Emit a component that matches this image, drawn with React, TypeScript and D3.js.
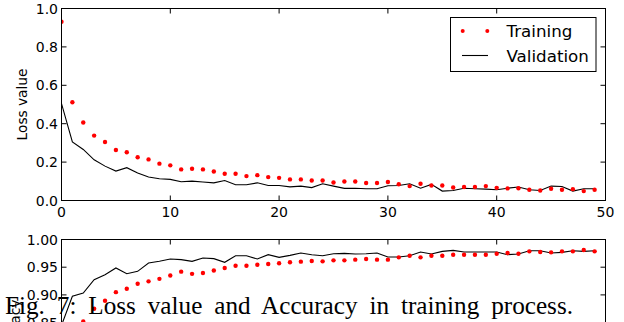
import React from "react";
import * as d3 from "d3";

const epochs = d3.range(0, 50);

const lossTrain = [
  0.931, 0.512, 0.406, 0.338, 0.305, 0.263, 0.251, 0.225, 0.214, 0.192,
  0.183, 0.162, 0.165, 0.162, 0.151, 0.139, 0.139, 0.127, 0.132, 0.122,
  0.118, 0.110, 0.110, 0.104, 0.104, 0.094, 0.099, 0.099, 0.091, 0.091,
  0.096, 0.085, 0.075, 0.087, 0.078, 0.078, 0.068, 0.070, 0.070, 0.075,
  0.066, 0.063, 0.064, 0.056, 0.052, 0.061, 0.056, 0.059, 0.049, 0.056,
];
const lossVal = [
  0.505, 0.305, 0.266, 0.212, 0.179, 0.153, 0.171, 0.143, 0.122, 0.113,
  0.110, 0.098, 0.101, 0.096, 0.092, 0.104, 0.082, 0.082, 0.092, 0.078,
  0.078, 0.071, 0.075, 0.067, 0.087, 0.075, 0.063, 0.064, 0.061, 0.061,
  0.077, 0.078, 0.087, 0.064, 0.084, 0.049, 0.052, 0.064, 0.061, 0.059,
  0.056, 0.064, 0.070, 0.056, 0.052, 0.075, 0.073, 0.049, 0.061, 0.061,
];
const accTrain = [
  0.76, 0.83, 0.852, 0.875, 0.8895, 0.905, 0.911, 0.92, 0.9245, 0.929,
  0.935, 0.942, 0.938, 0.9395, 0.944, 0.9486, 0.9527, 0.9527, 0.9545, 0.9558,
  0.957, 0.9588, 0.96, 0.9612, 0.9606, 0.9624, 0.9624, 0.9636, 0.9648, 0.9636,
  0.9636, 0.9678, 0.9708, 0.9678, 0.9708, 0.9708, 0.9726, 0.9726, 0.9726, 0.9726,
  0.9744, 0.9756, 0.9744, 0.9786, 0.9774, 0.9768, 0.9786, 0.9786, 0.981, 0.9786,
];
const accVal = [
  0.845, 0.8975, 0.9034, 0.9275, 0.9365, 0.9486, 0.9383, 0.9425, 0.9576, 0.9606,
  0.9648, 0.9636, 0.9606, 0.9666, 0.9654, 0.9588, 0.9708, 0.9708, 0.9648, 0.9726,
  0.9678, 0.9714, 0.9756, 0.9726, 0.9708, 0.9744, 0.975, 0.9738, 0.9744, 0.9756,
  0.9684, 0.9684, 0.9708, 0.9774, 0.9738, 0.9786, 0.9804, 0.9774, 0.9774, 0.9774,
  0.9774, 0.9726, 0.9738, 0.9798, 0.9798, 0.9756, 0.9768, 0.9798, 0.9786, 0.9798,
];

const xTicks = [0, 10, 20, 30, 40, 50];
const lossTicks = [0, 0.2, 0.4, 0.6, 0.8, 1.0];
const accTicks = [0.7, 0.75, 0.8, 0.85, 0.9, 0.95, 1.0];

const W = 624;
const H = 322;
const FONT = "DejaVu Sans";
const TICK = 5;

const x = d3.scaleLinear().domain([0, 50]).range([61.5, 605.5]);
const yLoss = d3.scaleLinear().domain([0, 1]).range([200.5, 8.5]);
const yAcc = d3.scaleLinear().domain([0.67, 1.0]).range([239.5 + 0.33 * 554, 239.5]);

type Props = {
  y: d3.ScaleLinear<number, number>;
  yTicks: number[];
  yFmt: (v: number) => string;
  train: number[];
  val: number[];
  label: string;
  labelX: number;
  clipId: string;
  showX: boolean;
};

function Panel({ y, yTicks, yFmt, train, val, label, labelX, clipId, showX }: Props) {
  const [x0, x1] = x.range();
  const [yb, yt] = y.range();
  const line = d3
    .line<number>()
    .x((_, i) => x(epochs[i]))
    .y((d) => y(d));
  return (
    <g>
      <defs>
        <clipPath id={clipId}>
          <rect x={x0} y={yt} width={x1 - x0} height={yb - yt} />
        </clipPath>
      </defs>
      <g clipPath={`url(#${clipId})`}>
        <path d={line(val) || ""} fill="none" stroke="#000" strokeWidth={1.1} />
        {train.map((d, i) => (
          <circle key={i} cx={x(epochs[i])} cy={y(d)} r={2.2} fill="#ff0000" />
        ))}
      </g>
      {/* frame */}
      <rect x={x0} y={yt} width={x1 - x0} height={yb - yt} fill="none" stroke="#000" strokeWidth={1} />
      {/* x ticks */}
      {xTicks.map((t) => (
        <g key={"x" + t}>
          <line x1={x(t)} x2={x(t)} y1={yb} y2={yb - TICK} stroke="#000" strokeWidth={1} />
          <line x1={x(t)} x2={x(t)} y1={yt} y2={yt + TICK} stroke="#000" strokeWidth={1} />
          {showX && (
            <text x={x(t)} y={yb + 16.3} textAnchor="middle" fontFamily={FONT} fontSize={14} fill="#000">
              {t}
            </text>
          )}
        </g>
      ))}
      {/* y ticks */}
      {yTicks.map((t) => (
        <g key={"y" + t}>
          <line x1={x0} x2={x0 + TICK} y1={y(t)} y2={y(t)} stroke="#000" strokeWidth={1} />
          <line x1={x1} x2={x1 - TICK} y1={y(t)} y2={y(t)} stroke="#000" strokeWidth={1} />
          <text x={x0 - 3.5} y={y(t) + 5.1} textAnchor="end" fontFamily={FONT} fontSize={14} fill="#000">
            {yFmt(t)}
          </text>
        </g>
      ))}
      <text
        transform={`translate(${labelX},${(yb + yt) / 2}) rotate(-90)`}
        textAnchor="middle"
        dominantBaseline="central"
        fontFamily={FONT}
        fontSize={13.7}
        fill="#000"
      >
        {label}
      </text>
    </g>
  );
}

export default function App() {
  const fmt1 = d3.format(".1f");
  const fmt2 = d3.format(".2f");
  return (
    <svg
      width={W}
      height={H}
      viewBox={`0 0 ${W} ${H}`}
      style={{ position: "absolute", left: 0, top: 0, background: "#fff" }}
    >
      <rect width={W} height={H} fill="#fff" />
      <Panel
        y={yLoss}
        yTicks={lossTicks}
        yFmt={fmt1}
        train={lossTrain}
        val={lossVal}
        label="Loss value"
        labelX={22}
        clipId="clipLoss"
        showX={true}
      />
      <Panel
        y={yAcc}
        yTicks={accTicks}
        yFmt={fmt2}
        train={accTrain}
        val={accVal}
        label="Accuracy"
        labelX={15}
        clipId="clipAcc"
        showX={false}
      />
      {/* legend */}
      <g>
        <rect x={450.5} y={17.5} width={145.5} height={54} fill="#fff" stroke="#000" strokeWidth={1} />
        <circle cx={462.7} cy={31} r={2} fill="#ff0000" />
        <circle cx={487.3} cy={31} r={2} fill="#ff0000" />
        <text x={506.5} y={37.3} fontFamily={FONT} fontSize={16.7} fill="#000">
          Training
        </text>
        <line x1={462} x2={488} y1={55.5} y2={55.5} stroke="#000" strokeWidth={1.1} />
        <text x={506.5} y={62.3} fontFamily={FONT} fontSize={16.7} fill="#000">
          Validation
        </text>
      </g>
      {/* caption */}
      <text x={5} y={314} fontFamily="Liberation Serif" fontSize={25.2} wordSpacing={5.6} fill="#000">
        Fig. 7: Loss value and Accuracy in training process.
      </text>
    </svg>
  );
}
